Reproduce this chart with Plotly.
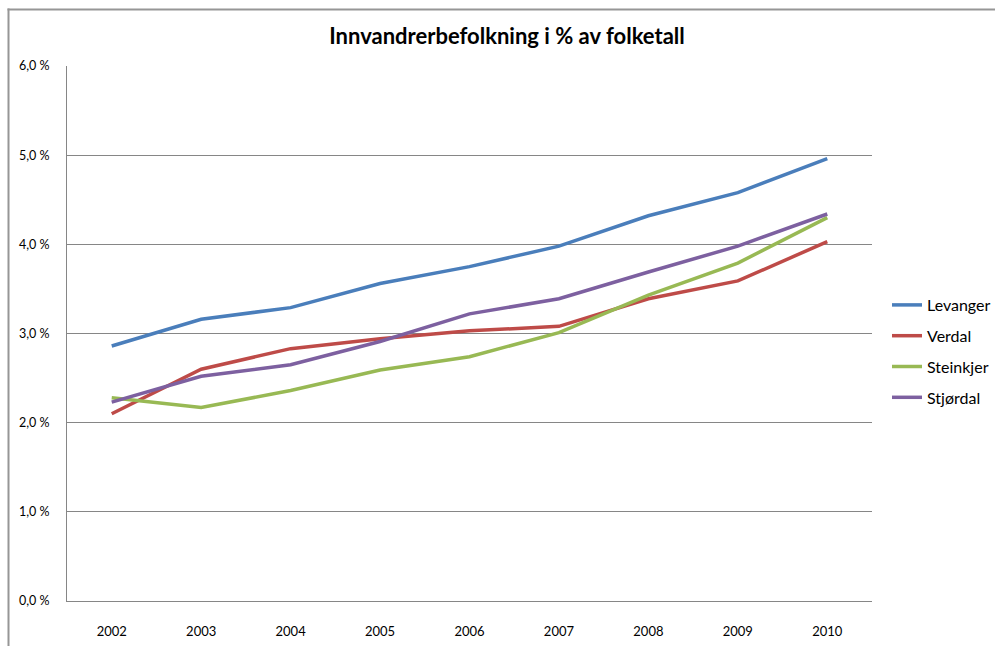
import plotly.graph_objects as go

years = ["2002", "2003", "2004", "2005", "2006", "2007", "2008", "2009", "2010"]
levanger = [2.86, 3.16, 3.29, 3.56, 3.75, 3.98, 4.32, 4.58, 4.96]
verdal = [2.10, 2.60, 2.83, 2.94, 3.03, 3.08, 3.39, 3.59, 4.03]
steinkjer = [2.28, 2.17, 2.36, 2.59, 2.74, 3.01, 3.43, 3.79, 4.30]
stjordal = [2.23, 2.52, 2.65, 2.91, 3.22, 3.39, 3.69, 3.98, 4.34]
series = [("Levanger", levanger, "#4a7ebb"), ("Verdal", verdal, "#be4b48"),
          ("Steinkjer", steinkjer, "#98b954"), ("Stjørdal", stjordal, "#7d60a0")]
yticks = [0, 1, 2, 3, 4, 5, 6]
yticktext = ["0,0 %", "1,0 %", "2,0 %", "3,0 %", "4,0 %", "5,0 %", "6,0 %"]

fig = go.Figure()
for name, vals, col in series:
    fig.add_trace(go.Scatter(x=years, y=vals, name=name, mode="lines", legendgroup=name,
                             line=dict(color=col, width=3.5)))

W, H = 995, 646
L, R, T, B = 67, 123, 66, 45
pw, ph = W - L - R, H - T - B
fx, fy = 8.5, 9.5  # outer frame position (px)

fig.update_layout(
    width=W, height=H,
    margin=dict(l=L, r=R, t=T, b=B, autoexpand=False),
    paper_bgcolor="white", plot_bgcolor="white",
    font=dict(family="Lato, Open Sans, sans-serif", color="black"),
    title=dict(text="<b>Innvandrerbefolkning i % av folketall</b>",
               x=(507) / W, xanchor="center", y=1 - 36 / H, yanchor="middle",
               font=dict(size=22, family="Lato, sans-serif")),
    showlegend=True,
    legend=dict(x=(887 - L) / pw, y=1 - (288 - T) / ph, xanchor="left", yanchor="top",
                font=dict(size=16), tracegroupgap=7, itemwidth=30,
                bgcolor="rgba(0,0,0,0)"),
    xaxis=dict(type="category", range=[-0.5, 8.5], showgrid=False,
               showline=True, linecolor="#868686", linewidth=1,
               ticks="", tickfont=dict(size=13), ticklabelstandoff=18,
               automargin=False, fixedrange=True),
    yaxis=dict(range=[0, 6], tickvals=yticks, ticktext=yticktext,
               showgrid=True, gridcolor="#868686", gridwidth=1,
               showline=True, linecolor="#868686", linewidth=1,
               ticks="", tickfont=dict(size=12.5), ticklabelstandoff=14,
               automargin=False, zeroline=False),
    shapes=[
        dict(type="line", xref="paper", yref="paper",
             x0=(fx - L) / pw, x1=(fx - L) / pw, y0=1 + (T - fy + 1) / ph, y1=-(B + 5) / ph,
             line=dict(color="#969696", width=2)),
        dict(type="line", xref="paper", yref="paper",
             x0=(fx - 1 - L) / pw, x1=(W + 5 - L) / pw, y0=1 + (T - fy) / ph, y1=1 + (T - fy) / ph,
             line=dict(color="#969696", width=2)),
    ],
)

fig.write_html("out.html", config={"displayModeBar": False},
               post_script="document.body.style.margin='0';")
